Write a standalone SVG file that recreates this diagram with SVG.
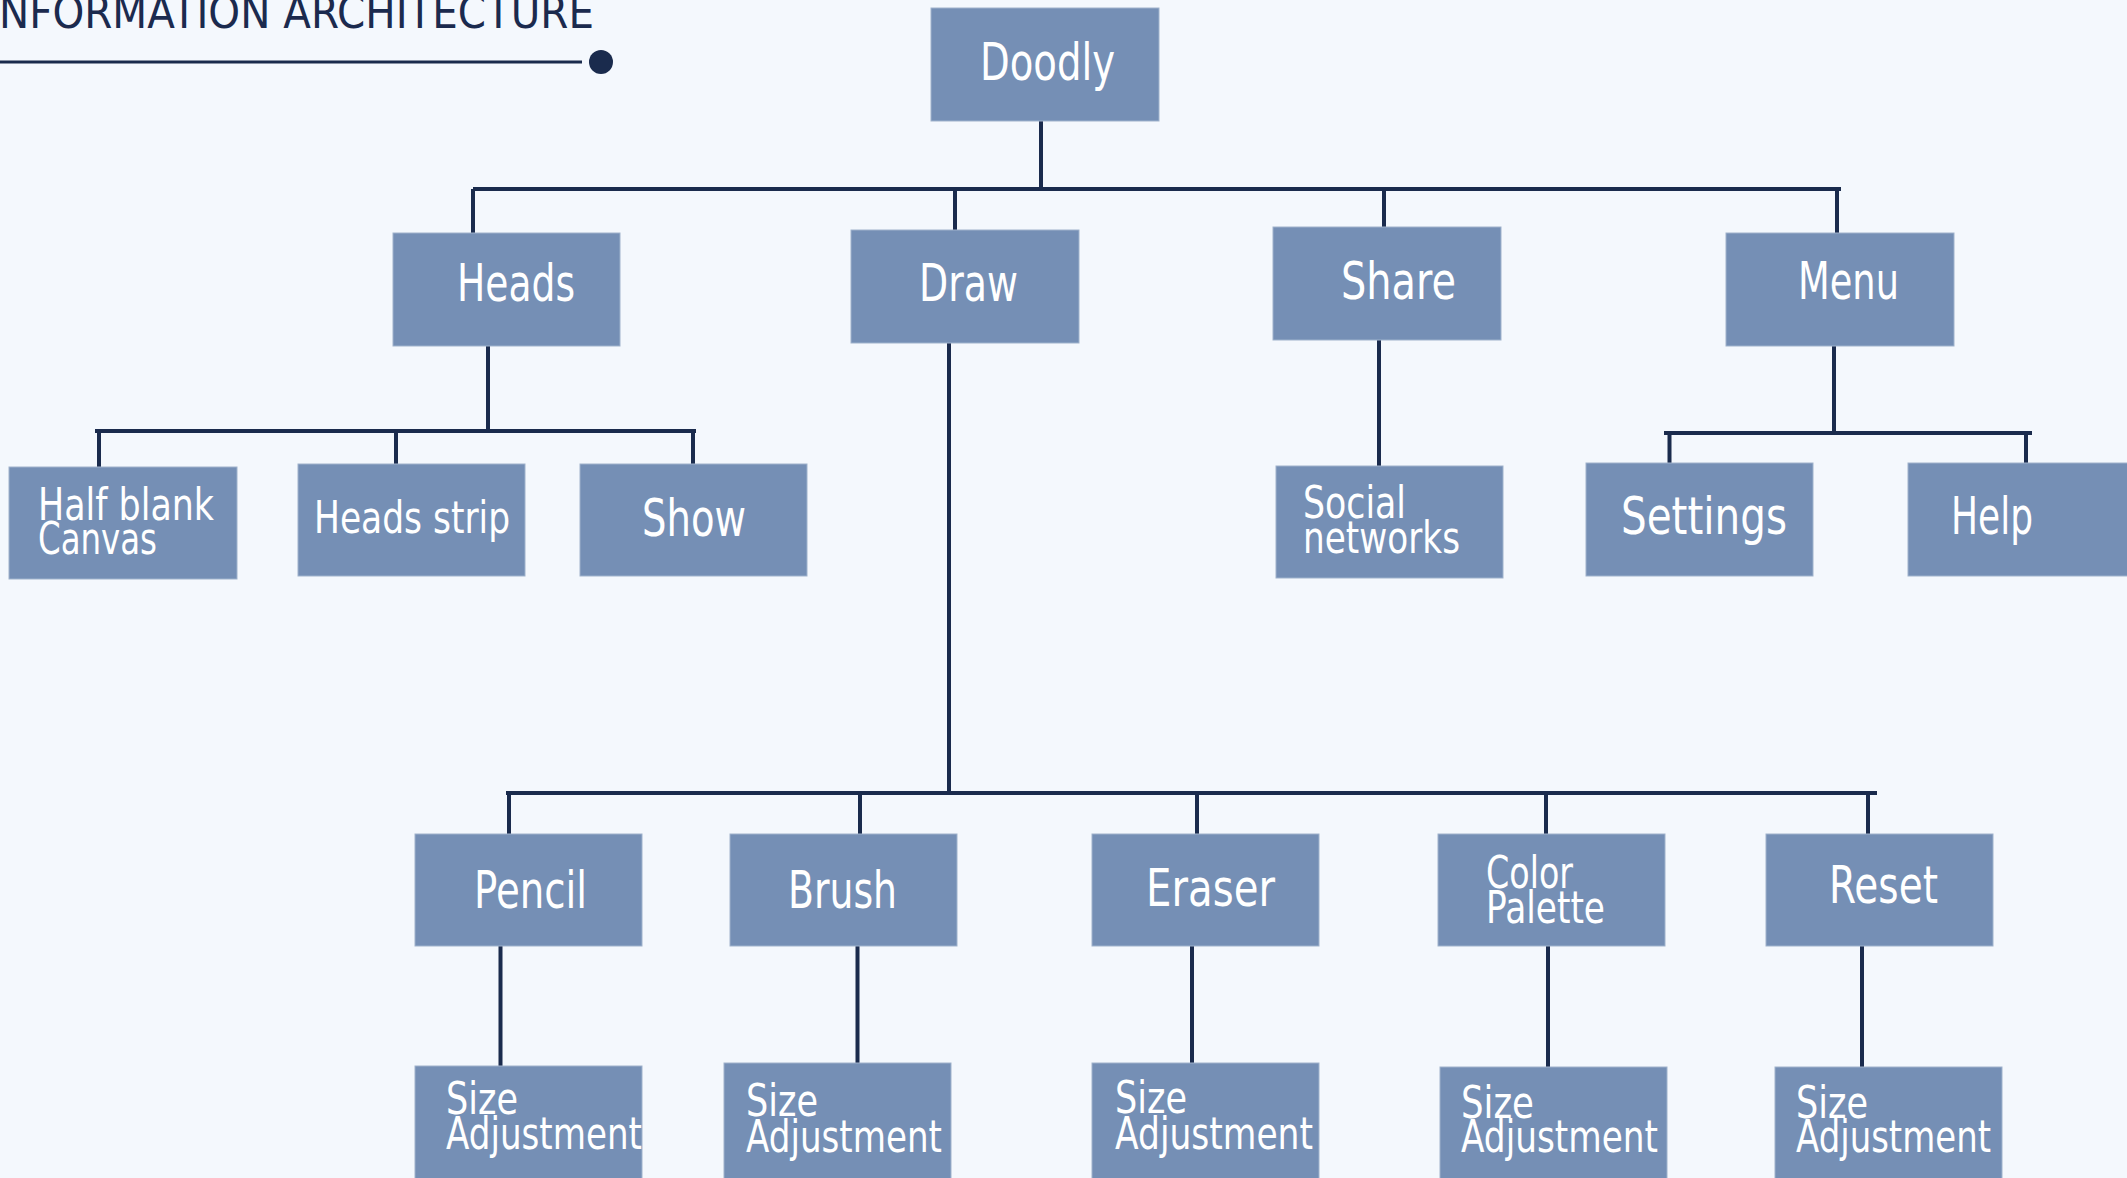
<svg xmlns="http://www.w3.org/2000/svg" width="2127" height="1178" viewBox="0 0 2127 1178">
<style>
.bg{fill:#f4f8fd}
.box{fill:#758fb5;stroke:#9fb2cc;stroke-width:1}
.lbl{fill:#ffffff;font-family:"DejaVu Sans","Liberation Sans",sans-serif;font-size:52px}
.sm{font-size:44px}
.ln{stroke:#1a2b4d;stroke-width:4;fill:none;stroke-linecap:butt}
.title{fill:#1b2a4e;font-family:"DejaVu Sans","Liberation Sans",sans-serif;font-size:44px}
</style>
<rect class="bg" x="0" y="0" width="2127" height="1178"/>
<g id="title">
<text class="title" x="-13" y="28" textLength="607" lengthAdjust="spacingAndGlyphs">INFORMATION ARCHITECTURE</text>
<line x1="0" y1="62" x2="582" y2="62" stroke="#1a2b4d" stroke-width="3"/>
<circle cx="601" cy="62" r="12" fill="#1a2b4d"/>
</g>
<g id="connectors" class="ln">
<path d="M1041 121V189M473 189H1841M473 189V233M955 189V231M1384 189V227M1837 189V233"/>
<path d="M488 346V431M95 431H696M99 431V467M396 431V464M693 431V464"/>
<path d="M1379 340V466"/>
<path d="M1834 346V433M1664 433H2032M1669.5 433V463M2026 433V463"/>
<path d="M949 343V793M506 793H1877M509 793V834M860 793V834M1197 793V834M1546 793V834M1868 793V834"/>
<path d="M500.5 946V1066M857.5 946V1063M1192 946V1063M1548 946V1067M1862 946V1067"/>
</g>
<g id="n-doodly"><rect class="box" x="931" y="8" width="228" height="113"/><text class="lbl" x="980" y="80" textLength="135" lengthAdjust="spacingAndGlyphs">Doodly</text></g>
<g id="n-heads"><rect class="box" x="393" y="233" width="227" height="113"/><text class="lbl" x="457" y="301" textLength="118" lengthAdjust="spacingAndGlyphs">Heads</text></g>
<g id="n-draw"><rect class="box" x="851" y="230" width="228" height="113"/><text class="lbl" x="919" y="301" textLength="99" lengthAdjust="spacingAndGlyphs">Draw</text></g>
<g id="n-share"><rect class="box" x="1273" y="227" width="228" height="113"/><text class="lbl" x="1341" y="299" textLength="115" lengthAdjust="spacingAndGlyphs">Share</text></g>
<g id="n-menu"><rect class="box" x="1726" y="233" width="228" height="113"/><text class="lbl" x="1798" y="299" textLength="101" lengthAdjust="spacingAndGlyphs">Menu</text></g>
<g id="n-halfblank"><rect class="box" x="9" y="467" width="228" height="112"/><text class="lbl sm" x="38" y="520" textLength="176" lengthAdjust="spacingAndGlyphs">Half blank</text><text class="lbl sm" x="38" y="554" textLength="119" lengthAdjust="spacingAndGlyphs">Canvas</text></g>
<g id="n-headsstrip"><rect class="box" x="298" y="464" width="227" height="112"/><text class="lbl sm" x="314" y="533" textLength="196" lengthAdjust="spacingAndGlyphs">Heads strip</text></g>
<g id="n-show"><rect class="box" x="580" y="464" width="227" height="112"/><text class="lbl" x="642" y="536" textLength="104" lengthAdjust="spacingAndGlyphs">Show</text></g>
<g id="n-social"><rect class="box" x="1276" y="466" width="227" height="112"/><text class="lbl sm" x="1303" y="518" textLength="103" lengthAdjust="spacingAndGlyphs">Social</text><text class="lbl sm" x="1303" y="553" textLength="157" lengthAdjust="spacingAndGlyphs">networks</text></g>
<g id="n-settings"><rect class="box" x="1586" y="463" width="227" height="113"/><text class="lbl" x="1621" y="534" textLength="166" lengthAdjust="spacingAndGlyphs">Settings</text></g>
<g id="n-help"><rect class="box" x="1908" y="463" width="227" height="113"/><text class="lbl" x="1951" y="534" textLength="82" lengthAdjust="spacingAndGlyphs">Help</text></g>
<g id="n-pencil"><rect class="box" x="415" y="834" width="227" height="112"/><text class="lbl" x="474" y="908" textLength="113" lengthAdjust="spacingAndGlyphs">Pencil</text></g>
<g id="n-brush"><rect class="box" x="730" y="834" width="227" height="112"/><text class="lbl" x="788" y="908" textLength="109" lengthAdjust="spacingAndGlyphs">Brush</text></g>
<g id="n-eraser"><rect class="box" x="1092" y="834" width="227" height="112"/><text class="lbl" x="1146" y="906" textLength="129" lengthAdjust="spacingAndGlyphs">Eraser</text></g>
<g id="n-color"><rect class="box" x="1438" y="834" width="227" height="112"/><text class="lbl sm" x="1486" y="888" textLength="87" lengthAdjust="spacingAndGlyphs">Color</text><text class="lbl sm" x="1486" y="923" textLength="119" lengthAdjust="spacingAndGlyphs">Palette</text></g>
<g id="n-reset"><rect class="box" x="1766" y="834" width="227" height="112"/><text class="lbl" x="1829" y="903" textLength="109" lengthAdjust="spacingAndGlyphs">Reset</text></g>
<g id="n-size1"><rect class="box" x="415" y="1066" width="227" height="113"/><text class="lbl sm" x="446" y="1114" textLength="72" lengthAdjust="spacingAndGlyphs">Size</text><text class="lbl sm" x="446" y="1149" textLength="196" lengthAdjust="spacingAndGlyphs">Adjustment</text></g>
<g id="n-size2"><rect class="box" x="724" y="1063" width="227" height="116"/><text class="lbl sm" x="746" y="1116" textLength="72" lengthAdjust="spacingAndGlyphs">Size</text><text class="lbl sm" x="746" y="1152" textLength="196" lengthAdjust="spacingAndGlyphs">Adjustment</text></g>
<g id="n-size3"><rect class="box" x="1092" y="1063" width="227" height="116"/><text class="lbl sm" x="1115" y="1113" textLength="72" lengthAdjust="spacingAndGlyphs">Size</text><text class="lbl sm" x="1115" y="1149" textLength="198" lengthAdjust="spacingAndGlyphs">Adjustment</text></g>
<g id="n-size4"><rect class="box" x="1440" y="1067" width="227" height="112"/><text class="lbl sm" x="1461" y="1118" textLength="73" lengthAdjust="spacingAndGlyphs">Size</text><text class="lbl sm" x="1461" y="1152" textLength="197" lengthAdjust="spacingAndGlyphs">Adjustment</text></g>
<g id="n-size5"><rect class="box" x="1775" y="1067" width="227" height="112"/><text class="lbl sm" x="1796" y="1118" textLength="72" lengthAdjust="spacingAndGlyphs">Size</text><text class="lbl sm" x="1796" y="1152" textLength="195" lengthAdjust="spacingAndGlyphs">Adjustment</text></g>
</svg>
